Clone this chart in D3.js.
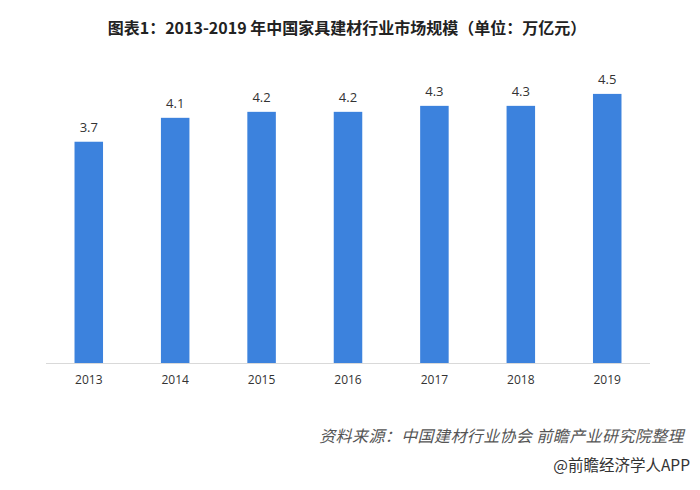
<!DOCTYPE html>
<html><head><meta charset="utf-8">
<script src="https://cdn.jsdelivr.net/npm/d3@7"></script>
<style>body{margin:0;background:#fff;}svg{display:block;}</style>
</head><body>
<script>
const years = ["2013","2014","2015","2016","2017","2018","2019"];
const values = [3.7, 4.1, 4.2, 4.2, 4.3, 4.3, 4.5];
const yDomain = [0, 5];

(function(){
const W = 700, H = 490;
const svg = d3.select("body").append("svg").attr("width", W).attr("height", H);
const base = 363, plotTop = 64;
const x = d3.scaleBand().domain(years).range([46, 650]).paddingInner(0.67).paddingOuter(0.33);
const y = d3.scaleLinear().domain(yDomain).range([base, plotTop]);

svg.append("text").attr("x", 347).attr("y", 34).attr("text-anchor", "middle")
  .attr("font-family", "'Noto Sans CJK SC', sans-serif").attr("font-weight", "bold")
  .attr("font-size", 16).attr("fill", "#222")
  .text("图表1：2013-2019 年中国家具建材行业市场规模（单位：万亿元）");

svg.selectAll("rect.bar").data(values).enter().append("rect").attr("class","bar")
  .attr("x", (d,i) => x(years[i])).attr("width", x.bandwidth())
  .attr("y", d => y(d)).attr("height", d => base - y(d)).attr("fill", "#3c82dd");

svg.selectAll("text.val").data(values).enter().append("text").attr("class","val")
  .attr("x", (d,i) => x(years[i]) + x.bandwidth()/2).attr("y", d => y(d) - 10)
  .attr("text-anchor","middle").attr("font-family","'Open Sans', sans-serif")
  .attr("font-size", 13).attr("fill", "#333").text(d => d.toFixed(1));

const ax = svg.append("g").attr("transform", `translate(0,${base})`)
  .call(d3.axisBottom(x).tickSize(0).tickPadding(12));
ax.select(".domain").attr("stroke", "#d9d9d9").attr("d", "M46,0.5H650");
ax.selectAll("text").attr("font-family","'Open Sans', sans-serif").attr("font-size", 12).attr("fill","#333");

svg.append("text").attr("x", 684).attr("y", 442).attr("text-anchor","end")
  .attr("font-family","'Noto Sans CJK SC', sans-serif").attr("font-style","italic")
  .attr("font-size", 16).attr("letter-spacing", 0.4).attr("fill","#555")
  .text("资料来源：中国建材行业协会 前瞻产业研究院整理");

svg.append("text").attr("x", 690).attr("y", 471).attr("text-anchor","end")
  .attr("font-family","'Noto Sans CJK SC', sans-serif")
  .attr("font-size", 15.5).attr("fill","#333")
  .text("@前瞻经济学人APP");
})();
</script>
</body></html>
